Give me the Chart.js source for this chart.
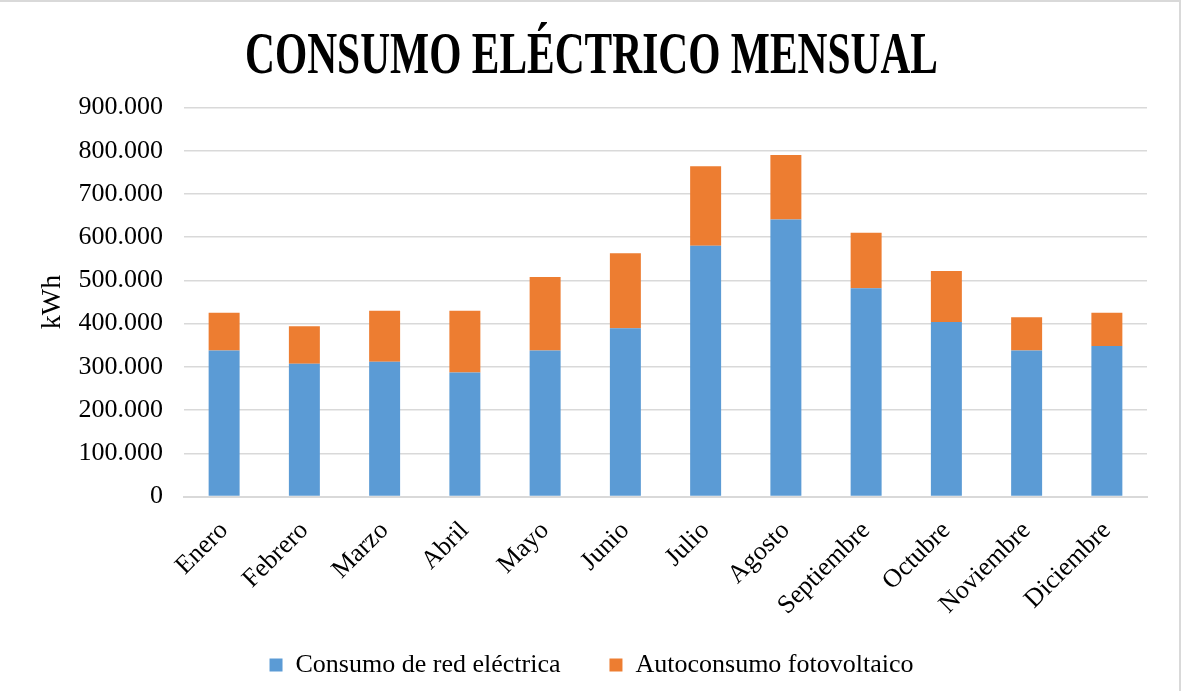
<!DOCTYPE html>
<html>
<head>
<meta charset="utf-8">
<title>Consumo eléctrico mensual</title>
<script src="https://cdn.jsdelivr.net/npm/chart.js@4.4.1/dist/chart.umd.min.js"></script>
<style>
	html, body { margin: 0; padding: 0; background: #fff; overflow: hidden; }
	#wrap { position: relative; width: 1183px; height: 691px; }
	#frame { position: absolute; left: -4px; top: 0; width: 1185px; height: 700px; border: 2px solid #d9d9d9; box-sizing: border-box; pointer-events: none; }
</style>
</head>
<body>
<div id="wrap">
	<canvas id="chart-consumo" width="1183" height="691"></canvas>
	<div id="frame"></div>
</div>
<script>
	// Datos (kWh)
	var meses = ['Enero', 'Febrero', 'Marzo', 'Abril', 'Mayo', 'Junio', 'Julio', 'Agosto', 'Septiembre', 'Octubre', 'Noviembre', 'Diciembre'];
	var consumo_red = [338000, 307000, 312000, 287000, 338000, 389000, 580000, 641000, 482000, 404000, 338000, 348000];
	var autoconsumo = [87000, 87000, 118000, 143000, 170000, 174000, 184000, 149000, 128000, 118000, 77000, 77000];
	var series_nombres = ['Consumo de red eléctrica', 'Autoconsumo fotovoltaico'];
	var titulo = 'CONSUMO ELÉCTRICO MENSUAL';
	var y_min = 0;
	var y_max = 900000;
	var y_paso = 100000;

	var fuente = 'Liberation Serif, Times New Roman, serif';

	function formatoMiles(v) {
		return String(v).replace(/\B(?=(\d{3})+(?!\d))/g, '.');
	}

	// titulo estrecho y alto, como el del original
	var tituloCondensado = {
		id: 'tituloCondensado',
		afterDraw: function(chart) {
			var c = chart.ctx;
			c.save();
			c.font = 'bold 59px ' + fuente;
			c.fillStyle = '#000';
			c.textAlign = 'center';
			c.textBaseline = 'alphabetic';
			var ancho = c.measureText(titulo).width;
			var escala = 693 / ancho;
			c.translate(chart.width / 2, 73);
			c.scale(escala, 1);
			c.fillText(titulo, 0, 0);
			c.restore();
		}
	};

	var configConsumo = {
		type: 'bar',
		data: {
			labels: meses,
			datasets: [{
				label: series_nombres[0],
				data: consumo_red,
				backgroundColor: '#5B9BD5',
				barPercentage: 0.386,
				categoryPercentage: 1
			}, {
				label: series_nombres[1],
				data: autoconsumo,
				backgroundColor: '#ED7D31',
				barPercentage: 0.386,
				categoryPercentage: 1
			}]
		},
		options: {
			responsive: false,
			animation: false,
			layout: {
				padding: { left: 0, right: 0, top: 107.5, bottom: 3 }
			},
			scales: {
				x: {
					stacked: true,
					grid: { display: false },
					border: { display: true, color: '#d9d9d9', width: 2 },
					ticks: {
						color: '#000',
						font: { family: fuente, size: 26 },
						minRotation: 45,
						maxRotation: 45,
						padding: 11
					},
					afterFit: function(scale) {
						scale.height = 106.5;
						// no recortar las etiquetas largas
						scale._computeLabelArea = function() { return null; };
					}
				},
				y: {
					stacked: true,
					min: y_min,
					max: y_max,
					border: { display: false },
					grid: { color: '#d9d9d9', lineWidth: 1.5, drawTicks: false },
					ticks: {
						stepSize: y_paso,
						color: '#000',
						font: { family: fuente, size: 26 },
						padding: 21,
						callback: function(value) { return formatoMiles(value); }
					},
					title: {
						display: true,
						text: 'kWh',
						color: '#000',
						font: { family: fuente, size: 28 },
						padding: { top: 36, bottom: 0 }
					},
					afterFit: function(scale) { scale.width = 184; }
				},
				derecha: {
					type: 'linear',
					position: 'right',
					display: true,
					grid: { display: false },
					border: { display: false },
					ticks: { display: false },
					afterFit: function(scale) { scale.width = 36; }
				}
			},
			plugins: {
				title: { display: false },
				legend: {
					display: true,
					position: 'bottom',
					labels: {
						color: '#000',
						font: { family: fuente, size: 26 },
						boxWidth: 13,
						boxHeight: 13,
						padding: 49
					}
				},
				tooltip: { enabled: false }
			}
		},
		plugins: [tituloCondensado]
	};

	var ctx = document.getElementById('chart-consumo').getContext('2d');
	window.chartConsumo = new Chart(ctx, configConsumo);
</script>
</body>
</html>
